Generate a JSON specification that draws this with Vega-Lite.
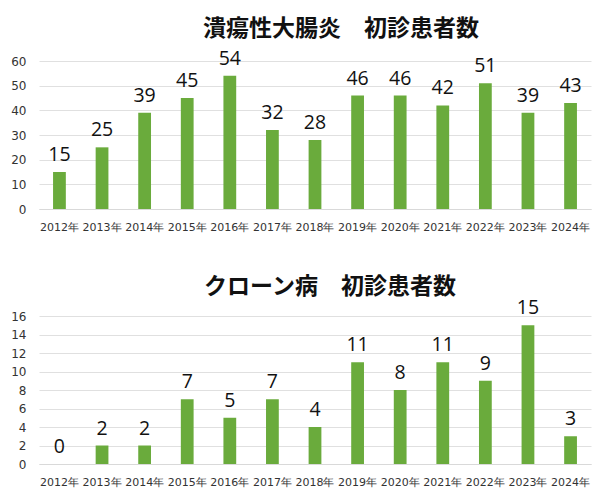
{
  "$schema": "https://vega.github.io/schema/vega-lite/v6.json",
  "padding": {"left": 10, "top": 17, "right": 12, "bottom": 10},
  "background": "white",
  "config": {
    "font": "Noto Sans CJK JP",
    "view": {"stroke": null},
    "title": {"fontSize": 23, "fontWeight": "bold", "color": "#111", "anchor": "middle", "font": "Noto Sans CJK JP"},
    "axis": {"labelFont": "DejaVu Sans", "labelColor": "#333", "title": null, "ticks": false}
  },
  "spacing": 44,
  "datasets": {
    "uc": [
      {"year": "2012年", "n": 15}, {"year": "2013年", "n": 25}, {"year": "2014年", "n": 39},
      {"year": "2015年", "n": 45}, {"year": "2016年", "n": 54}, {"year": "2017年", "n": 32},
      {"year": "2018年", "n": 28}, {"year": "2019年", "n": 46}, {"year": "2020年", "n": 46},
      {"year": "2021年", "n": 42}, {"year": "2022年", "n": 51}, {"year": "2023年", "n": 39},
      {"year": "2024年", "n": 43}
    ],
    "cd": [
      {"year": "2012年", "n": 0}, {"year": "2013年", "n": 2}, {"year": "2014年", "n": 2},
      {"year": "2015年", "n": 7}, {"year": "2016年", "n": 5}, {"year": "2017年", "n": 7},
      {"year": "2018年", "n": 4}, {"year": "2019年", "n": 11}, {"year": "2020年", "n": 8},
      {"year": "2021年", "n": 11}, {"year": "2022年", "n": 9}, {"year": "2023年", "n": 15},
      {"year": "2024年", "n": 3}
    ]
  },
  "vconcat": [
    {
      "title": {"text": "潰瘍性大腸炎　初診患者数", "offset": 8, "dx": 26},
      "width": 552,
      "height": 148,
      "data": {"name": "uc"},
      "encoding": {
        "x": {"field": "year", "type": "nominal", "sort": null,
              "scale": {"paddingInner": 0.7, "paddingOuter": 0.33},
              "axis": {"labelAngle": 0, "labelFontSize": 11, "labelPadding": 12, "domainColor": "#d9d9d9", "grid": false}},
        "y": {"field": "n", "type": "quantitative",
              "scale": {"domain": [0, 60]},
              "axis": {"values": [0, 10, 20, 30, 40, 50, 60], "labelFontSize": 12, "labelPadding": 13, "domain": false, "gridColor": "#e0e0e0"}}
      },
      "layer": [
        {"mark": {"type": "bar", "color": "#6aab3c"}},
        {"mark": {"type": "text", "baseline": "bottom", "dy": -7, "fontSize": 19.5, "font": "Open Sans", "color": "#111"},
         "encoding": {"text": {"field": "n", "type": "quantitative"}}}
      ]
    },
    {
      "title": {"text": "クローン病　初診患者数", "offset": -1, "dx": 15},
      "width": 552,
      "height": 148,
      "data": {"name": "cd"},
      "encoding": {
        "x": {"field": "year", "type": "nominal", "sort": null,
              "scale": {"paddingInner": 0.7, "paddingOuter": 0.33},
              "axis": {"labelAngle": 0, "labelFontSize": 11, "labelPadding": 12, "domainColor": "#d9d9d9", "grid": false}},
        "y": {"field": "n", "type": "quantitative",
              "scale": {"domain": [0, 16]},
              "axis": {"values": [0, 2, 4, 6, 8, 10, 12, 14, 16], "labelFontSize": 12, "labelPadding": 13, "domain": false, "gridColor": "#e0e0e0"}}
      },
      "layer": [
        {"mark": {"type": "bar", "color": "#6aab3c"}},
        {"mark": {"type": "text", "baseline": "bottom", "dy": -7, "fontSize": 19.5, "font": "Open Sans", "color": "#111"},
         "encoding": {"text": {"field": "n", "type": "quantitative"}}}
      ]
    }
  ]
}
